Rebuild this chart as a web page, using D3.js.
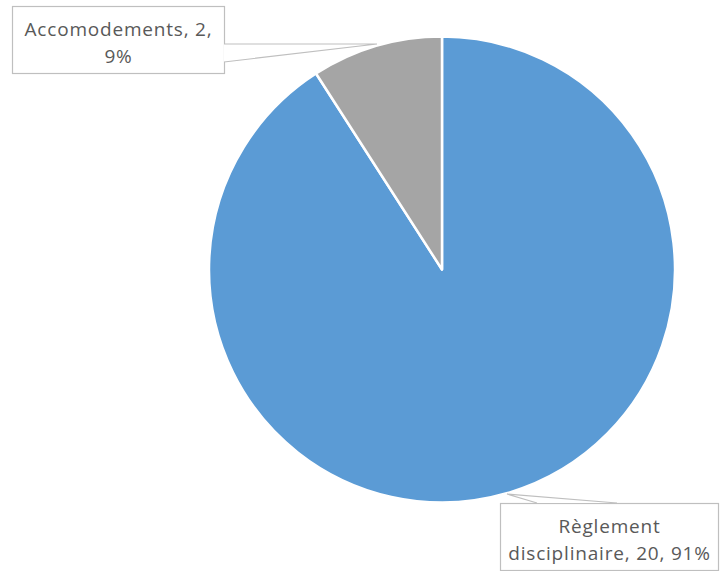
<!DOCTYPE html>
<html>
<head>
<meta charset="utf-8">
<script src="https://cdn.jsdelivr.net/npm/d3@7"></script>
<style>
  body { margin: 0; background: #fff; }
  svg { display: block; }
</style>
</head>
<body>
<svg id="chart"></svg>
<script>
const categories = ["Règlement disciplinaire", "Accomodements"];
const values = [20, 2];
const percents = ["91%", "9%"];
const colors = ["#5B9BD5", "#A5A5A5"];

const width = 720;
const height = 571;
const cx = 442, cy = 269.5, radius = 233;

const svg = d3.select("#chart").attr("width", width).attr("height", height);

const data = categories.map((c, i) => ({ name: c, value: values[i], pct: percents[i], color: colors[i] }));

const pie = d3.pie().value(d => d.value).sort(null);
const arc = d3.arc().innerRadius(0).outerRadius(radius);

const g = svg.append("g").attr("transform", `translate(${cx},${cy})`);

g.selectAll("path")
  .data(pie(data))
  .enter()
  .append("path")
  .attr("d", arc)
  .attr("fill", d => d.data.color)
  .attr("stroke", "#fff")
  .attr("stroke-width", 2.5)
  .attr("stroke-linejoin", "round");

// callout labels (box + pointer like Excel)
const labels = [
  { box: [12, 6, 224, 73], lines: [`${categories[1]}, ${values[1]},`, percents[1]], baselines: [36, 63],
    pointer: [[224, 44], [377, 44], [224, 62]] },
  { box: [500, 503, 718, 570], lines: ["Règlement", `disciplinaire, ${values[0]}, ${percents[0]}`], baselines: [533, 560],
    pointer: [[537, 503], [507, 494], [617, 503]] }
];

labels.forEach(l => {
  const [x0, y0, x1, y1] = l.box;
  svg.append("rect")
    .attr("x", x0 + 0.5).attr("y", y0 + 0.5)
    .attr("width", x1 - x0).attr("height", y1 - y0)
    .attr("fill", "#fff").attr("stroke", "#BFBFBF").attr("stroke-width", 1.2);
  svg.append("path")
    .attr("d", d3.line()(l.pointer))
    .attr("fill", "#fff").attr("stroke", "#BFBFBF").attr("stroke-width", 1.2);
  l.lines.forEach((t, i) => {
    svg.append("text")
      .attr("x", (x0 + x1) / 2 + 0.5)
      .attr("y", l.baselines[i])
      .attr("text-anchor", "middle")
      .style("font-family", "'Open Sans', sans-serif")
      .style("font-size", "19px")
      .style("letter-spacing", "0.8px")
      .style("fill", "#595959")
      .text(t);
  });
});
</script>
</body>
</html>
